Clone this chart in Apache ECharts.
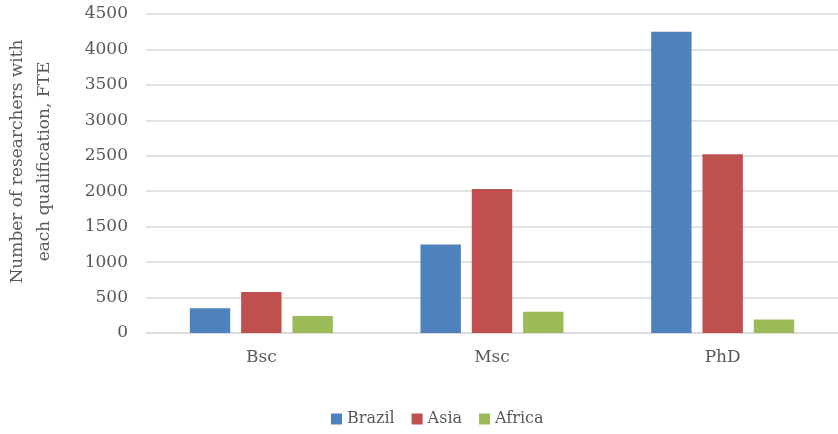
<!DOCTYPE html>
<html>
<head>
<meta charset="utf-8">
<script src="https://cdn.jsdelivr.net/npm/echarts@6/dist/echarts.min.js"></script>
<style>
  html, body { margin: 0; padding: 0; background: #fff; }
  #main { width: 838px; height: 434px; }
</style>
</head>
<body>
<div id="main"></div>
<script>
// data
const categories = ['Bsc', 'Msc', 'PhD'];
const brazil = [350, 1250, 4250];
const asia = [580, 2030, 2520];
const africa = [240, 300, 190];
const seriesNames = ['Brazil', 'Asia', 'Africa'];

const font = 'DejaVu Serif';
const textColor = '#595959';

let myChart = echarts.init(document.getElementById('main'));

myChart.setOption({
    color: ['#4F81BD', '#C0504D', '#9BBB59'],
    textStyle: { fontFamily: font },
    grid: {
        left: 146,
        right: 0,
        top: 14,
        bottom: 101,
        outerBoundsMode: 'none'
    },
    legend: {
        bottom: 2,
        left: 326,
        itemWidth: 11,
        itemHeight: 11,
        itemGap: 17,
        icon: 'rect',
        textStyle: { fontFamily: font, fontSize: 16, color: textColor },
        data: seriesNames
    },
    xAxis: {
        type: 'category',
        data: categories,
        axisTick: { show: false },
        axisLine: { lineStyle: { color: '#d9d9d9', width: 1.5 } },
        axisLabel: { fontFamily: font, fontSize: 17, color: textColor, margin: 16 }
    },
    yAxis: {
        type: 'value',
        min: 0,
        max: 4500,
        interval: 500,
        axisLine: { show: false },
        axisTick: { show: false },
        splitLine: { lineStyle: { color: '#d9d9d9', width: 1.5 } },
        axisLabel: {
            fontFamily: font, fontSize: 17, color: textColor, margin: 18,
            formatter: function (v) { return String(v); }
        },
        name: 'Number of researchers with\neach qualification, FTE',
        nameLocation: 'middle',
        nameGap: 88,
        nameTextStyle: { fontFamily: font, fontSize: 17, color: textColor, lineHeight: 27, padding: [0, 0, 0, 24] }
    },
    series: [
        { name: seriesNames[0], type: 'bar', data: brazil, barGap: '27%', barCategoryGap: '38%' },
        { name: seriesNames[1], type: 'bar', data: asia, barGap: '27%', barCategoryGap: '38%' },
        { name: seriesNames[2], type: 'bar', data: africa, barGap: '27%', barCategoryGap: '38%' }
    ]
});
</script>
</body>
</html>
